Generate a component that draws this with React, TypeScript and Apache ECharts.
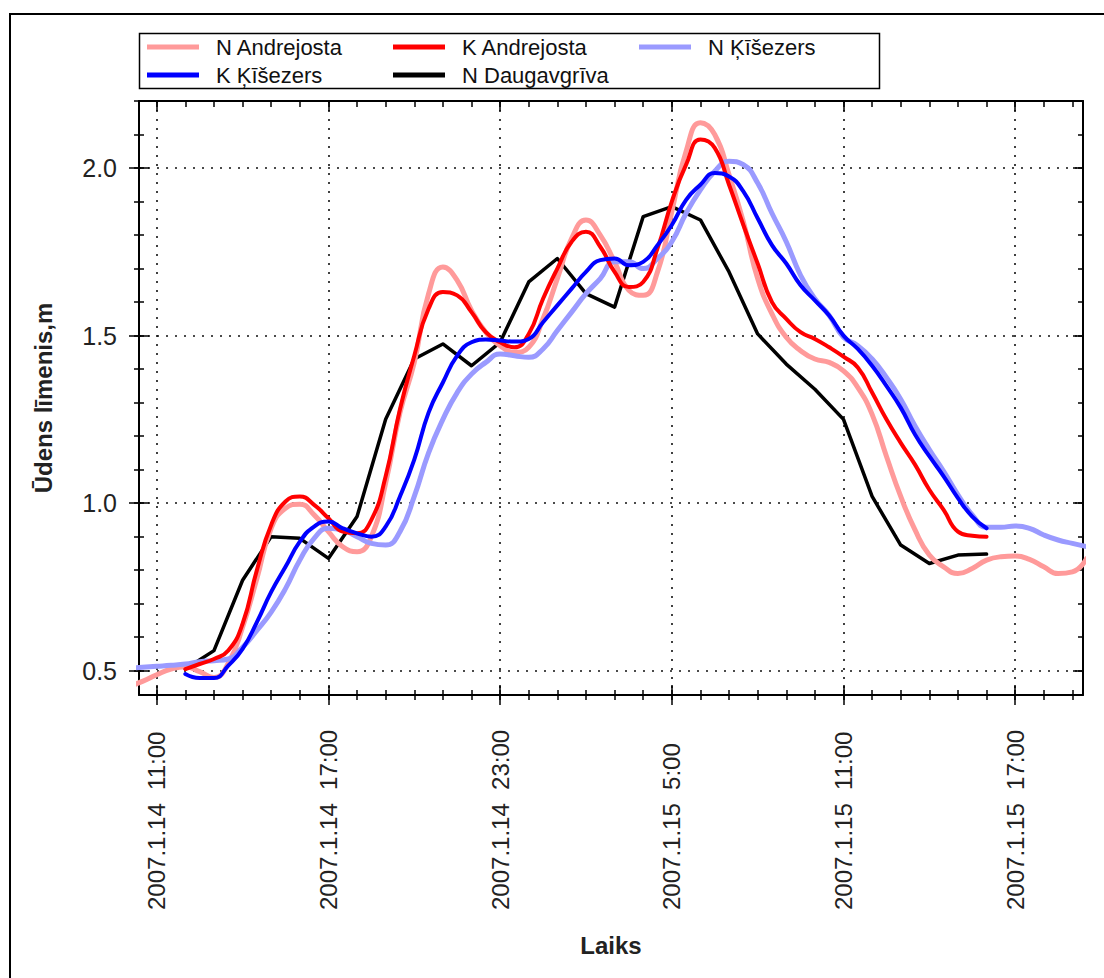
import React, { useEffect, useRef } from "react";
import * as echarts from "echarts";

// x values are hours counted from 2007-01-14 00:00
const X_MIN = 10.38;
const X_MAX = 43.37;
const Y_MIN = 0.4275;
const Y_MAX = 2.2;

const xLabelHours = [11, 17, 23, 29, 35, 41];
const xHourTicks = [11, 12, 13, 14, 15, 16, 17, 18, 19, 20, 21, 22, 23, 24, 25, 26, 27, 28, 29, 30, 31, 32, 33, 34, 35, 36, 37, 38, 39, 40, 41, 42, 43];
const yLabelValues = [0.5, 1.0, 1.5, 2.0];
const yMinorValues = [0.5, 0.6, 0.7, 0.8, 0.9, 1.0, 1.1, 1.2, 1.3, 1.4, 1.5, 1.6, 1.7, 1.8, 1.9, 2.0, 2.1, 2.2];

const seriesNames = ["N Andrejosta", "K Andrejosta", "N Ķīšezers", "K Ķīšezers", "N Daugavgrīva"];
const seriesColors = ["#ff9a9a", "#ff0000", "#9a9aff", "#0000ff", "#000000"];

// N Andrejosta, half-hourly from 10:00 on 14th
const nAndrejostaStart = 10;
const nAndrejosta = [
  0.452, 0.468, 0.488, 0.505, 0.512, 0.497, 0.48, 0.522, 0.63, 0.775,
  0.925, 0.985, 0.997, 0.965, 0.915, 0.87, 0.855, 0.9, 1.06, 1.27,
  1.42, 1.625, 1.705, 1.665, 1.575, 1.51, 1.47, 1.45, 1.465, 1.55,
  1.67, 1.79, 1.845, 1.8, 1.72, 1.635, 1.62, 1.69, 1.87, 2.05,
  2.135, 2.1, 1.98, 1.84, 1.67, 1.565, 1.495, 1.455, 1.43, 1.42,
  1.395, 1.345, 1.265, 1.14, 1.02, 0.92, 0.845, 0.81, 0.79, 0.805,
  0.83, 0.84, 0.842, 0.832, 0.81, 0.79, 0.795, 0.835,
];

// K Andrejosta, half-hourly from 12:00 on 14th
const kAndrejostaStart = 12;
const kAndrejosta = [
  0.505, 0.52, 0.535, 0.56, 0.64, 0.8, 0.935, 1.005, 1.02, 0.995,
  0.955, 0.915, 0.91, 0.95, 1.08, 1.28, 1.44, 1.58, 1.63, 1.62,
  1.57, 1.51, 1.48, 1.465, 1.505, 1.61, 1.7, 1.78, 1.81, 1.765,
  1.69, 1.645, 1.66, 1.76, 1.9, 2.01, 2.085, 2.06, 1.95, 1.83,
  1.715, 1.6, 1.55, 1.51, 1.49, 1.465, 1.437, 1.405, 1.33, 1.25,
  1.18, 1.115, 1.04, 0.98, 0.915, 0.903, 0.9,
];

// N Ķīšezers, half-hourly from 10:00 on 14th
const nKisezersStart = 10;
const nKisezers = [
  0.507, 0.51, 0.513, 0.516, 0.52, 0.527, 0.53, 0.535, 0.57, 0.62,
  0.675, 0.745, 0.83, 0.895, 0.925, 0.92, 0.9, 0.88, 0.875, 0.915,
  1.02, 1.15, 1.25, 1.33, 1.385, 1.42, 1.445, 1.44, 1.435, 1.46,
  1.515, 1.57, 1.625, 1.67, 1.72, 1.72, 1.7, 1.73, 1.78, 1.865,
  1.935, 1.99, 2.02, 2.01, 1.955, 1.865, 1.78, 1.68, 1.61, 1.56,
  1.495, 1.47, 1.43, 1.375, 1.31, 1.23, 1.16, 1.095, 1.025, 0.965,
  0.928, 0.928, 0.932, 0.925, 0.905, 0.89, 0.88, 0.87,
];

// K Ķīšezers, half-hourly from 12:00 on 14th
const kKisezersStart = 12;
const kKisezers = [
  0.49, 0.478, 0.478, 0.515, 0.565, 0.645, 0.735, 0.81, 0.885, 0.93,
  0.945, 0.925, 0.91, 0.9, 0.93, 1.02, 1.13, 1.27, 1.36, 1.44,
  1.48, 1.488, 1.485, 1.482, 1.49, 1.54, 1.59, 1.64, 1.69, 1.725,
  1.73, 1.71, 1.72, 1.77, 1.83, 1.905, 1.95, 1.985, 1.975, 1.93,
  1.85, 1.77, 1.715, 1.65, 1.605, 1.56, 1.5, 1.46, 1.41, 1.35,
  1.285, 1.205, 1.14, 1.08, 1.015, 0.96, 0.925,
];

// N Daugavgrīva, hourly from 12:00 on 14th
const nDaugavgrivaStart = 12;
const nDaugavgriva = [
  0.505, 0.56, 0.77, 0.9, 0.895, 0.835, 0.96, 1.25, 1.43, 1.475,
  1.41, 1.48, 1.66, 1.73, 1.625, 1.585, 1.855, 1.885, 1.845, 1.69,
  1.505, 1.415, 1.34, 1.25, 1.02, 0.875, 0.82, 0.845, 0.848,
];

const FONT = "'Liberation Sans', Arial, sans-serif";

function pairs(start: number, step: number, vals: number[]) {
  return vals.map((v, i) => [start + i * step, v]);
}

function xLabel(v: number) {
  const day = 14 + Math.floor(v / 24);
  const hour = Math.round(v - Math.floor(v / 24) * 24);
  return `2007.1.${day}  ${hour}:00`;
}

function tickAxisX(position: string, inside: boolean, length: number, values: number[]) {
  return {
    type: "value",
    position,
    min: X_MIN,
    max: X_MAX,
    axisLine: { show: false, onZero: false },
    axisLabel: { show: false },
    splitLine: { show: false },
    axisTick: { show: true, inside, length, customValues: values, lineStyle: { color: "#000", width: 1.5 } },
  };
}

function tickAxisY(position: string, inside: boolean, length: number, values: number[]) {
  return {
    type: "value",
    position,
    min: Y_MIN,
    max: Y_MAX,
    axisLine: { show: false, onZero: false },
    axisLabel: { show: false },
    splitLine: { show: false },
    axisTick: { show: true, inside, length, customValues: values, lineStyle: { color: "#000", width: 1.5 } },
  };
}

export default function App() {
  const ref = useRef<HTMLDivElement>(null);
  useEffect(() => {
    if (!ref.current) return;
    const chart = echarts.init(ref.current, null, { renderer: "svg" });
    const dotted = { color: "#111", type: [2, 7], width: 1.6 };
    const lineSeries = (name: string, color: string, data: number[][], width: number, smooth: boolean, z: number) => ({
      name,
      type: "line",
      data,
      color,
      smooth,
      showSymbol: false,
      symbol: "none",
      z,
      lineStyle: { color, width, cap: "round", join: "round" },
      emphasis: { disabled: true },
    });
    chart.setOption({
      animation: false,
      backgroundColor: "#ffffff",
      textStyle: { fontFamily: FONT },
      grid: { left: 139, top: 101, width: 944, height: 594, containLabel: false },
      legend: {
        data: seriesNames,
        left: 147,
        top: 36,
        padding: 0,
        width: 735,
        itemGap: 6,
        itemWidth: 52,
        itemHeight: 5,
        icon: "rect",
        selectedMode: false,
        textStyle: { fontFamily: FONT, fontSize: 22, color: "#111", width: 171, lineHeight: 20, padding: [0, 0, 0, 12] },
      },
      graphic: [
        { type: "rect", silent: true, z: 100, shape: { x: 10, y: 14, width: 1200, height: 1100 }, style: { fill: "none", stroke: "#000", lineWidth: 2 } },
        { type: "rect", silent: true, z: 100, shape: { x: 139.5, y: 33.5, width: 740, height: 55 }, style: { fill: "none", stroke: "#000", lineWidth: 1.5 } },
      ],
      xAxis: [
        {
          type: "value",
          position: "bottom",
          min: X_MIN,
          max: X_MAX,
          name: "Laiks",
          nameLocation: "middle",
          nameGap: 238,
          nameTextStyle: { fontFamily: FONT, fontSize: 24, fontWeight: "bold", color: "#222" },
          axisLine: { show: true, onZero: false, lineStyle: { color: "#000", width: 2 } },
          axisTick: { show: true, inside: false, length: 10, customValues: xLabelHours, lineStyle: { color: "#000", width: 1.5 } },
          axisLabel: {
            show: true,
            customValues: xLabelHours,
            rotate: 90,
            align: "left",
            verticalAlign: "middle",
            margin: 215,
            fontFamily: FONT,
            fontSize: 24,
            color: "#222",
            formatter: (v: number) => xLabel(v),
          },
          splitLine: { show: true, lineStyle: dotted },
        },
        tickAxisX("bottom", true, 10, xLabelHours),
        tickAxisX("bottom", false, 5, xHourTicks),
        tickAxisX("bottom", true, 5, xHourTicks),
        { ...tickAxisX("top", true, 10, xLabelHours), axisLine: { show: true, onZero: false, lineStyle: { color: "#000", width: 2 } } },
        tickAxisX("top", true, 6, xHourTicks),
      ],
      yAxis: [
        {
          type: "value",
          position: "left",
          min: Y_MIN,
          max: Y_MAX,
          name: "Ūdens līmenis,m",
          nameLocation: "middle",
          nameGap: 84,
          nameTextStyle: { fontFamily: FONT, fontSize: 24, fontWeight: "bold", color: "#222" },
          axisLine: { show: true, onZero: false, lineStyle: { color: "#000", width: 2 } },
          axisTick: { show: true, inside: false, length: 10, customValues: yLabelValues, lineStyle: { color: "#000", width: 1.5 } },
          axisLabel: {
            show: true,
            customValues: yLabelValues,
            margin: 22,
            fontFamily: FONT,
            fontSize: 25,
            color: "#222",
            formatter: (v: number) => v.toFixed(1),
          },
          splitLine: { show: true, lineStyle: dotted },
        },
        tickAxisY("left", true, 10, yLabelValues),
        tickAxisY("left", false, 5, yMinorValues),
        tickAxisY("left", true, 5, yMinorValues),
        { ...tickAxisY("right", true, 10, yLabelValues), axisLine: { show: true, onZero: false, lineStyle: { color: "#000", width: 2 } } },
        tickAxisY("right", true, 5, yMinorValues),
      ],
      series: [
        lineSeries(seriesNames[4], seriesColors[4], pairs(nDaugavgrivaStart, 1, nDaugavgriva), 3.5, false, 2),
        lineSeries(seriesNames[0], seriesColors[0], pairs(nAndrejostaStart, 0.5, nAndrejosta), 5, true, 3),
        lineSeries(seriesNames[2], seriesColors[2], pairs(nKisezersStart, 0.5, nKisezers), 5, true, 3),
        lineSeries(seriesNames[1], seriesColors[1], pairs(kAndrejostaStart, 0.5, kAndrejosta), 4, true, 4),
        lineSeries(seriesNames[3], seriesColors[3], pairs(kKisezersStart, 0.5, kKisezers), 4, true, 4),
      ],
    });
    return () => chart.dispose();
  }, []);
  return <div ref={ref} style={{ position: "absolute", left: 0, top: 0, width: 1104, height: 978 }} />;
}
